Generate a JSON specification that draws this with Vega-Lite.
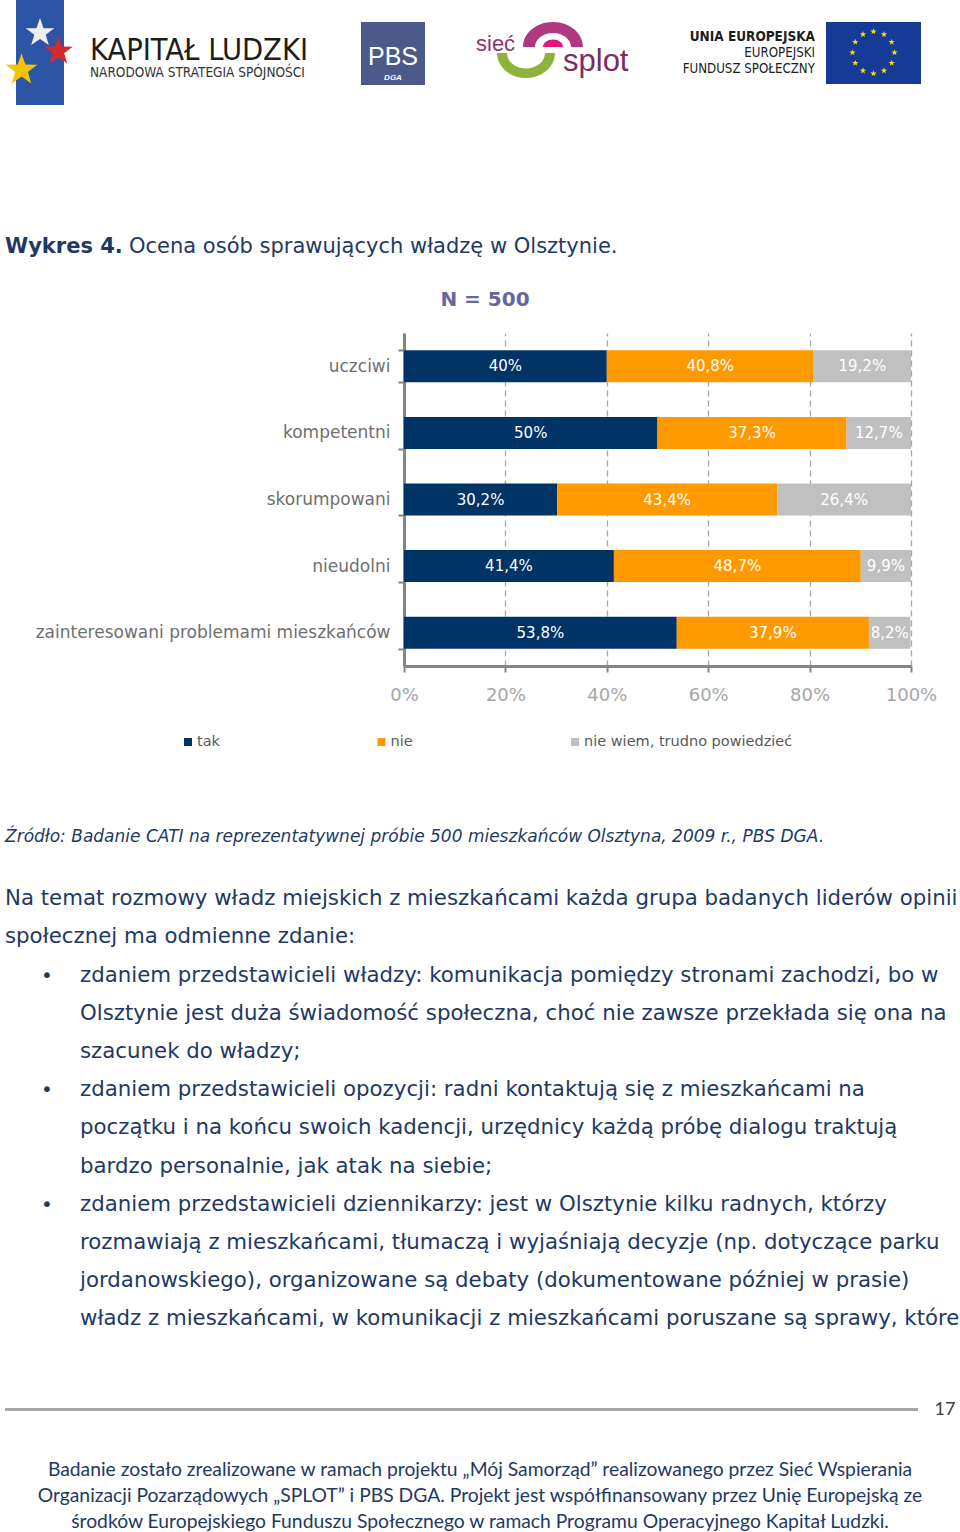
{
  "$schema": "https://vega.github.io/schema/vega-lite/v6.json",
  "padding": 0,
  "background": "white",
  "bounds": "full",
  "spacing": 0,
  "config": {
    "view": {"stroke": null},
    "concat": {"spacing": 0},
    "font": "DejaVu Sans",
    "locale": {"number": {"decimal": ",", "thousands": " ", "grouping": [3], "currency": ["", " zł"]}}
  },
  "vconcat": [
    {
      "bounds": "flush", "spacing": 0,
      "hconcat": [
        {"width": 16, "height": 105, "mark": "point", "data": {"values": []}},
        {
          "width": 48, "height": 105,
          "view": {"fill": "#2c55a5"},
          "data": {"values": [{"gwiazda": "biała"}, {"gwiazda": "czerwona"}, {"gwiazda": "żółta"}]},
          "encoding": {
            "x": {"field": "gwiazda", "type": "nominal", "scale": {"type": "point", "padding": 0.3, "domain": ["żółta", "biała", "czerwona"]}, "axis": null},
            "y": {"field": "gwiazda", "type": "nominal", "scale": {"type": "point", "padding": 0.84, "align": 0.467, "domain": ["góra", "biała", "czerwona", "żółta", "dół"]}, "axis": null}
          },
          "layer": [
            {"transform": [{"filter": "datum.gwiazda == 'biała'"}], "mark": {"type": "point", "shape": "M 0 -1 L 0.2351 -0.3236 L 0.9511 -0.309 L 0.3804 0.1236 L 0.5878 0.809 L 0 0.4 L -0.5878 0.809 L -0.3804 0.1236 L -0.9511 -0.309 L -0.2351 -0.3236 Z", "filled": true, "size": 900, "opacity": 1, "color": "#eeeeee"}},
            {"transform": [{"filter": "datum.gwiazda == 'czerwona'"}], "mark": {"type": "point", "shape": "M 0 -1 L 0.2351 -0.3236 L 0.9511 -0.309 L 0.3804 0.1236 L 0.5878 0.809 L 0 0.4 L -0.5878 0.809 L -0.3804 0.1236 L -0.9511 -0.309 L -0.2351 -0.3236 Z", "filled": true, "size": 900, "opacity": 1, "color": "#d42a2a"}},
            {"transform": [{"filter": "datum.gwiazda == 'żółta'"}], "mark": {"type": "point", "shape": "M 0 -1 L 0.2351 -0.3236 L 0.9511 -0.309 L 0.3804 0.1236 L 0.5878 0.809 L 0 0.4 L -0.5878 0.809 L -0.3804 0.1236 L -0.9511 -0.309 L -0.2351 -0.3236 Z", "filled": true, "size": 1100, "opacity": 1, "color": "#f5c400"}}
          ]
        },
        {"width": 25, "height": 105, "mark": "point", "data": {"values": []}},
        {
          "width": 2, "height": 105,
          "data": {"values": [{"wiersz": 1, "tekst": "KAPITAŁ LUDZKI"}, {"wiersz": 2, "tekst": "NARODOWA STRATEGIA SPÓJNOŚCI"}]},
          "encoding": {
            "y": {"field": "wiersz", "type": "ordinal", "scale": {"type": "point", "domain": [0, 1, 2, 3], "padding": 0.886, "align": 0.745}, "axis": null},
            "text": {"field": "tekst"}
          },
          "layer": [
            {"transform": [{"filter": "datum.wiersz == 1"}], "mark": {"type": "text", "align": "left", "font": "Liberation Sans Narrow, DejaVu Sans Condensed, Liberation Sans", "fontSize": 30.5, "color": "#1d1d1b"}},
            {"transform": [{"filter": "datum.wiersz == 2"}], "mark": {"type": "text", "align": "left", "font": "Liberation Sans Narrow, DejaVu Sans Condensed, Liberation Sans", "fontSize": 13.5, "color": "#333333"}}
          ]
        },
        {"width": 270, "height": 105, "mark": "point", "data": {"values": []}},
        {
          "width": 64, "height": 105,
          "data": {"values": [{"element": "góra", "tekst": ""}, {"element": "PBS", "tekst": "PBS"}, {"element": "DGA", "tekst": "DGA"}]},
          "encoding": {
            "y": {"field": "element", "type": "nominal", "scale": {"type": "band", "domain": ["góra", "PBS", "DGA"], "paddingInner": 0, "paddingOuter": 1, "align": 0.524}, "axis": null}
          },
          "layer": [
            {"mark": {"type": "bar", "color": "#4b5a8a"}},
            {"transform": [{"filter": "datum.element == 'PBS'"}], "mark": {"type": "text", "font": "Liberation Sans", "fontSize": 25, "color": "white", "dy": 3.5}, "encoding": {"text": {"field": "tekst"}}},
            {"transform": [{"filter": "datum.element == 'DGA'"}], "mark": {"type": "text", "font": "Liberation Sans", "fontSize": 8, "fontStyle": "italic", "fontWeight": "bold", "color": "white", "dy": 3.5}, "encoding": {"text": {"field": "tekst"}}}
          ]
        },
        {"width": 50, "height": 105, "mark": "point", "data": {"values": []}},
        {
          "width": 2, "height": 105,
          "data": {"values": [{"tekst": "sieć"}]},
          "mark": {"type": "text", "align": "left", "font": "Liberation Sans", "fontSize": 22, "color": "#8b3574"},
          "encoding": {
            "y": {"field": "tekst", "type": "nominal", "scale": {"type": "point", "padding": 1, "align": 0.419}, "axis": null},
            "text": {"field": "tekst"}
          }
        },
        {"width": 48, "height": 105, "mark": "point", "data": {"values": []}},
        {
          "width": 2, "height": 105,
          "data": {"values": [{"element": "łuk dolny"}]},
          "mark": {"type": "point", "filled": true, "opacity": 1, "color": "#8cb43c", "size": 2500, "shape": "M -1.16 0 A 1.16 1 0 0 0 1.16 0 L 0.76 0 A 0.76 0.62 0 0 1 -0.76 0 Z"},
          "encoding": {"y": {"field": "element", "type": "nominal", "scale": {"type": "point", "padding": 1, "align": 0.505}, "axis": null}}
        },
        {"width": 25, "height": 105, "mark": "point", "data": {"values": []}},
        {
          "width": 2, "height": 105,
          "data": {"values": [{"element": "łuk górny"}]},
          "encoding": {"y": {"field": "element", "type": "nominal", "scale": {"type": "point", "padding": 1, "align": 0.448}, "axis": null}},
          "layer": [
            {"mark": {"type": "point", "filled": true, "opacity": 1, "color": "#b0387e", "size": 2500, "shape": "M -1.2 0 A 1.2 1 0 0 1 1.2 0 L 0.72 0 A 0.72 0.56 0 0 0 -0.72 0 Z"}},
            {"mark": {"type": "point", "filled": true, "opacity": 1, "color": "#e4187c", "size": 2500, "shape": "M -0.4 0 A 0.4 0.3 0 0 1 0.4 0 Z"}}
          ]
        },
        {"width": 8, "height": 105, "mark": "point", "data": {"values": []}},
        {
          "width": 2, "height": 105,
          "data": {"values": [{"tekst": "splot"}]},
          "mark": {"type": "text", "align": "left", "font": "Liberation Sans", "fontSize": 31, "color": "#7b2d63"},
          "encoding": {
            "y": {"field": "tekst", "type": "nominal", "scale": {"type": "point", "padding": 1, "align": 0.59}, "axis": null},
            "text": {"field": "tekst"}
          }
        },
        {"width": 250, "height": 105, "mark": "point", "data": {"values": []}},
        {
          "width": 2, "height": 105,
          "data": {"values": [{"wiersz": 1, "tekst": "UNIA EUROPEJSKA"}, {"wiersz": 2, "tekst": "EUROPEJSKI"}, {"wiersz": 3, "tekst": "FUNDUSZ SPOŁECZNY"}]},
          "encoding": {
            "y": {"field": "wiersz", "type": "ordinal", "scale": {"type": "point", "padding": 0.781, "align": 0.84, "domain": [0, 1, 2, 3, 4, 5]}, "axis": null},
            "text": {"field": "tekst"}
          },
          "layer": [
            {"transform": [{"filter": "datum.wiersz == 1"}], "mark": {"type": "text", "align": "right", "font": "Liberation Sans Narrow, DejaVu Sans Condensed, Liberation Sans", "fontSize": 13.5, "fontWeight": "bold", "color": "#1d1d1b"}},
            {"transform": [{"filter": "datum.wiersz > 1"}], "mark": {"type": "text", "align": "right", "font": "Liberation Sans Narrow, DejaVu Sans Condensed, Liberation Sans", "fontSize": 13.2, "color": "#1d1d1b"}}
          ]
        },
        {"width": 10, "height": 105, "mark": "point", "data": {"values": []}},
        {
          "width": 95, "height": 105,
          "layer": [
            {
              "data": {"values": [{"logo": "flaga UE"}]},
              "mark": {"type": "bar", "color": "#163b96"},
              "encoding": {"y": {"field": "logo", "type": "nominal", "scale": {"type": "band", "paddingInner": 0, "paddingOuter": 0.347, "align": 0.512}, "axis": null}}
            },
            {
              "data": {"values": [{"logo": "gwiazdy"}]},
              "mark": {"type": "point", "filled": true, "opacity": 1, "color": "#ffdd00", "size": 2304, "shape": "M 0 -1.015 l 0.0329 0.0947 l 0.1002 0.002 l -0.0798 0.0606 l 0.029 0.096 l -0.0823 -0.0573 l -0.0823 0.0573 l 0.029 -0.096 l -0.0798 -0.0606 l 0.1002 -0.002 z M 0.4375 -0.8978 l 0.0329 0.0947 l 0.1002 0.002 l -0.0798 0.0606 l 0.029 0.096 l -0.0823 -0.0573 l -0.0823 0.0573 l 0.029 -0.096 l -0.0798 -0.0606 l 0.1002 -0.002 z M 0.7578 -0.5775 l 0.0329 0.0947 l 0.1002 0.002 l -0.0798 0.0606 l 0.029 0.096 l -0.0823 -0.0573 l -0.0823 0.0573 l 0.029 -0.096 l -0.0798 -0.0606 l 0.1002 -0.002 z M 0.875 -0.14 l 0.0329 0.0947 l 0.1002 0.002 l -0.0798 0.0606 l 0.029 0.096 l -0.0823 -0.0573 l -0.0823 0.0573 l 0.029 -0.096 l -0.0798 -0.0606 l 0.1002 -0.002 z M 0.7578 0.2975 l 0.0329 0.0947 l 0.1002 0.002 l -0.0798 0.0606 l 0.029 0.096 l -0.0823 -0.0573 l -0.0823 0.0573 l 0.029 -0.096 l -0.0798 -0.0606 l 0.1002 -0.002 z M 0.4375 0.6178 l 0.0329 0.0947 l 0.1002 0.002 l -0.0798 0.0606 l 0.029 0.096 l -0.0823 -0.0573 l -0.0823 0.0573 l 0.029 -0.096 l -0.0798 -0.0606 l 0.1002 -0.002 z M 0 0.735 l 0.0329 0.0947 l 0.1002 0.002 l -0.0798 0.0606 l 0.029 0.096 l -0.0823 -0.0573 l -0.0823 0.0573 l 0.029 -0.096 l -0.0798 -0.0606 l 0.1002 -0.002 z M -0.4375 0.6178 l 0.0329 0.0947 l 0.1002 0.002 l -0.0798 0.0606 l 0.029 0.096 l -0.0823 -0.0573 l -0.0823 0.0573 l 0.029 -0.096 l -0.0798 -0.0606 l 0.1002 -0.002 z M -0.7578 0.2975 l 0.0329 0.0947 l 0.1002 0.002 l -0.0798 0.0606 l 0.029 0.096 l -0.0823 -0.0573 l -0.0823 0.0573 l 0.029 -0.096 l -0.0798 -0.0606 l 0.1002 -0.002 z M -0.875 -0.14 l 0.0329 0.0947 l 0.1002 0.002 l -0.0798 0.0606 l 0.029 0.096 l -0.0823 -0.0573 l -0.0823 0.0573 l 0.029 -0.096 l -0.0798 -0.0606 l 0.1002 -0.002 z M -0.7578 -0.5775 l 0.0329 0.0947 l 0.1002 0.002 l -0.0798 0.0606 l 0.029 0.096 l -0.0823 -0.0573 l -0.0823 0.0573 l 0.029 -0.096 l -0.0798 -0.0606 l 0.1002 -0.002 z M -0.4375 -0.8978 l 0.0329 0.0947 l 0.1002 0.002 l -0.0798 0.0606 l 0.029 0.096 l -0.0823 -0.0573 l -0.0823 0.0573 l 0.029 -0.096 l -0.0798 -0.0606 l 0.1002 -0.002 z"}
            }
          ]
        }
      ]
    },
    {"width": 960, "height": 122, "mark": "point", "data": {"values": []}},
    {
      "bounds": "flush", "spacing": 0,
      "hconcat": [
        {"width": 10, "height": 40, "data": {"values": [{"tekst": "Wykres 4."}]}, "mark": {"type": "text", "align": "left", "fontSize": 21, "fontWeight": "bold", "color": "#1f3864"}, "encoding": {"text": {"field": "tekst"}}},
        {"width": 118, "height": 40, "mark": "point", "data": {"values": []}},
        {"width": 2, "height": 40, "data": {"values": [{"tekst": "Ocena osób sprawujących władzę w Olsztynie."}]}, "mark": {"type": "text", "align": "left", "fontSize": 21, "color": "#1f3864"}, "encoding": {"text": {"field": "tekst"}}}
      ]
    },
    {
      "bounds": "flush", "spacing": 0,
      "hconcat": [
        {"width": 400, "height": 56.5, "mark": "point", "data": {"values": []}},
        {
          "width": 170, "height": 56.5,
          "data": {"values": [{"tekst": "N = 500"}]},
          "mark": {"type": "text", "fontSize": 20, "fontWeight": "bold", "color": "#67679a"},
          "encoding": {
            "y": {"field": "tekst", "type": "nominal", "scale": {"type": "point", "padding": 1, "align": 0.584}, "axis": null},
            "text": {"field": "tekst"}
          }
        }
      ]
    },
    {
      "bounds": "flush", "spacing": 0,
      "hconcat": [
        {"width": 404, "height": 333, "mark": "point", "data": {"values": []}},
        {
          "width": 507, "height": 333,
          "data": {"values": [
            {"cecha": "uczciwi", "odpowiedz": "tak", "kod": 1, "wartosc": 0.4},
            {"cecha": "uczciwi", "odpowiedz": "nie", "kod": 2, "wartosc": 0.408},
            {"cecha": "uczciwi", "odpowiedz": "nie wiem, trudno powiedzieć", "kod": 3, "wartosc": 0.192},
            {"cecha": "kompetentni", "odpowiedz": "tak", "kod": 1, "wartosc": 0.5},
            {"cecha": "kompetentni", "odpowiedz": "nie", "kod": 2, "wartosc": 0.373},
            {"cecha": "kompetentni", "odpowiedz": "nie wiem, trudno powiedzieć", "kod": 3, "wartosc": 0.127},
            {"cecha": "skorumpowani", "odpowiedz": "tak", "kod": 1, "wartosc": 0.302},
            {"cecha": "skorumpowani", "odpowiedz": "nie", "kod": 2, "wartosc": 0.434},
            {"cecha": "skorumpowani", "odpowiedz": "nie wiem, trudno powiedzieć", "kod": 3, "wartosc": 0.264},
            {"cecha": "nieudolni", "odpowiedz": "tak", "kod": 1, "wartosc": 0.414},
            {"cecha": "nieudolni", "odpowiedz": "nie", "kod": 2, "wartosc": 0.487},
            {"cecha": "nieudolni", "odpowiedz": "nie wiem, trudno powiedzieć", "kod": 3, "wartosc": 0.099},
            {"cecha": "zainteresowani problemami mieszkańców", "odpowiedz": "tak", "kod": 1, "wartosc": 0.538},
            {"cecha": "zainteresowani problemami mieszkańców", "odpowiedz": "nie", "kod": 2, "wartosc": 0.379},
            {"cecha": "zainteresowani problemami mieszkańców", "odpowiedz": "nie wiem, trudno powiedzieć", "kod": 3, "wartosc": 0.082}
          ]},
          "transform": [
            {"stack": "wartosc", "groupby": ["cecha"], "sort": [{"field": "kod", "order": "ascending"}], "as": ["od", "do"]},
            {"calculate": "(datum.od + datum.do) / 2", "as": "srodek"}
          ],
          "encoding": {
            "y": {
              "field": "cecha", "type": "nominal",
              "sort": ["uczciwi", "kompetentni", "skorumpowani", "nieudolni", "zainteresowani problemami mieszkańców"],
              "scale": {"paddingInner": 0.52, "paddingOuter": 0.26},
              "axis": {"title": null, "labelFontSize": 17, "labelColor": "#6f6f6f", "domainColor": "#858585", "domainWidth": 3, "tickColor": "#858585", "tickWidth": 2, "tickSize": 6, "tickBand": "extent", "labelPadding": 8, "labelLimit": 600, "grid": false}
            }
          },
          "layer": [
            {
              "mark": {"type": "bar"},
              "encoding": {
                "x": {
                  "field": "od", "type": "quantitative",
                  "scale": {"domain": [0, 1], "nice": false},
                  "axis": {"values": [0, 0.2, 0.4, 0.6, 0.8, 1], "format": ".0%", "title": null, "grid": true, "gridColor": "#a6a6a6", "gridDash": [6, 4], "gridWidth": 1.3, "domainColor": "#858585", "domainWidth": 3, "tickColor": "#858585", "tickWidth": 2, "tickSize": 6, "labelFontSize": 18, "labelColor": "#a6a6a6", "labelPadding": 14, "labelFlush": false, "labelOverlap": false}
                },
                "x2": {"field": "do"},
                "color": {"field": "odpowiedz", "type": "nominal", "scale": {"domain": ["tak", "nie", "nie wiem, trudno powiedzieć"], "range": ["#003366", "#ff9900", "#c0c0c0"]}, "legend": null}
              }
            },
            {
              "mark": {"type": "text", "color": "white", "fontSize": 15},
              "encoding": {
                "x": {"field": "srodek", "type": "quantitative"},
                "text": {"field": "wartosc", "type": "quantitative", "format": ".1~%"}
              }
            }
          ]
        }
      ]
    },
    {
      "bounds": "flush", "spacing": 0,
      "hconcat": [
        {"width": 188, "height": 76, "mark": "point", "data": {"values": []}},
        {
          "width": 387, "height": 76,
          "data": {"values": [{"odpowiedz": "tak", "kod": 1}, {"odpowiedz": "nie", "kod": 2}, {"odpowiedz": "nie wiem, trudno powiedzieć", "kod": 3}]},
          "encoding": {
            "x": {"field": "odpowiedz", "type": "nominal", "sort": ["tak", "nie", "nie wiem, trudno powiedzieć"], "scale": {"type": "point", "padding": 0}, "axis": null}
          },
          "layer": [
            {"mark": {"type": "point", "shape": "square", "filled": true, "size": 64, "opacity": 1}, "encoding": {"color": {"field": "odpowiedz", "type": "nominal", "scale": {"domain": ["tak", "nie", "nie wiem, trudno powiedzieć"], "range": ["#003366", "#ff9900", "#c0c0c0"]}, "legend": null}}},
            {"mark": {"type": "text", "align": "left", "dx": 9, "fontSize": 14.5, "color": "#595959"}, "encoding": {"text": {"field": "odpowiedz"}}}
          ]
        }
      ]
    },
    {"width": 960, "height": 38, "mark": "point", "data": {"values": []}},
    {"width": 10, "height": 38, "data": {"values": [{"tekst": "Źródło: Badanie CATI na reprezentatywnej próbie 500 mieszkańców Olsztyna, 2009 r., PBS DGA."}]}, "mark": {"type": "text", "align": "left", "fontSize": 17, "fontStyle": "italic", "color": "#1f3864"}, "encoding": {"text": {"field": "tekst"}}},
    {"width": 960, "height": 24, "mark": "point", "data": {"values": []}},
    {
      "bounds": "flush", "spacing": 0,
      "hconcat": [
        {
          "width": 10, "height": 458.4,
          "data": {"values": [
            {"wiersz": 1, "tekst": "Na temat rozmowy władz miejskich z mieszkańcami każda grupa badanych liderów opinii"},
            {"wiersz": 2, "tekst": "społecznej ma odmienne zdanie:"}
          ]},
          "mark": {"type": "text", "align": "left", "fontSize": 21.3, "color": "#1f3864"},
          "encoding": {
            "y": {"field": "wiersz", "type": "ordinal", "scale": {"type": "point", "padding": 0.5, "domain": [1, 2, 3, 4, 5, 6, 7, 8, 9, 10, 11, 12]}, "axis": null},
            "text": {"field": "tekst"}
          }
        },
        {"width": 32, "height": 458.4, "mark": "point", "data": {"values": []}},
        {
          "width": 10, "height": 458.4,
          "data": {"values": [{"wiersz": 3, "tekst": "•"}, {"wiersz": 6, "tekst": "•"}, {"wiersz": 9, "tekst": "•"}]},
          "mark": {"type": "text", "fontSize": 20, "color": "#1f3864"},
          "encoding": {
            "y": {"field": "wiersz", "type": "ordinal", "scale": {"type": "point", "padding": 0.5, "domain": [1, 2, 3, 4, 5, 6, 7, 8, 9, 10, 11, 12]}, "axis": null},
            "text": {"field": "tekst"}
          }
        },
        {"width": 27, "height": 458.4, "mark": "point", "data": {"values": []}},
        {
          "width": 2, "height": 458.4,
          "data": {"values": [
            {"wiersz": 3, "tekst": "zdaniem przedstawicieli władzy: komunikacja pomiędzy stronami zachodzi, bo w"},
            {"wiersz": 4, "tekst": "Olsztynie jest duża świadomość społeczna, choć nie zawsze przekłada się ona na"},
            {"wiersz": 5, "tekst": "szacunek do władzy;"},
            {"wiersz": 6, "tekst": "zdaniem przedstawicieli opozycji: radni kontaktują się z mieszkańcami na"},
            {"wiersz": 7, "tekst": "początku i na końcu swoich kadencji, urzędnicy każdą próbę dialogu traktują"},
            {"wiersz": 8, "tekst": "bardzo personalnie, jak atak na siebie;"},
            {"wiersz": 9, "tekst": "zdaniem przedstawicieli dziennikarzy: jest w Olsztynie kilku radnych, którzy"},
            {"wiersz": 10, "tekst": "rozmawiają z mieszkańcami, tłumaczą i wyjaśniają decyzje (np. dotyczące parku"},
            {"wiersz": 11, "tekst": "jordanowskiego), organizowane są debaty (dokumentowane później w prasie)"},
            {"wiersz": 12, "tekst": "władz z mieszkańcami, w komunikacji z mieszkańcami poruszane są sprawy, które"}
          ]},
          "mark": {"type": "text", "align": "left", "fontSize": 21.3, "color": "#1f3864"},
          "encoding": {
            "y": {"field": "wiersz", "type": "ordinal", "scale": {"type": "point", "padding": 0.5, "domain": [1, 2, 3, 4, 5, 6, 7, 8, 9, 10, 11, 12]}, "axis": null},
            "text": {"field": "tekst"}
          }
        }
      ]
    },
    {"width": 960, "height": 59.6, "mark": "point", "data": {"values": []}},
    {
      "bounds": "flush", "spacing": 0,
      "hconcat": [
        {"width": 5, "height": 21, "mark": "point", "data": {"values": []}},
        {
          "width": 913, "height": 21,
          "data": {"values": [{"element": "linia"}]},
          "mark": {"type": "bar", "color": "#a6a6a6"},
          "encoding": {"y": {"field": "element", "type": "nominal", "scale": {"type": "band", "domain": ["a", "b", "linia", "c", "d"], "paddingInner": 0, "paddingOuter": 1}, "axis": null}}
        },
        {"width": 26, "height": 21, "mark": "point", "data": {"values": []}},
        {"width": 2, "height": 21, "data": {"values": [{"strona": "17"}]}, "mark": {"type": "text", "font": "Lato", "fontSize": 18, "color": "#404040"}, "encoding": {"text": {"field": "strona"}}}
      ]
    },
    {"width": 960, "height": 37, "mark": "point", "data": {"values": []}},
    {
      "width": 960, "height": 78,
      "data": {"values": [
        {"wiersz": 1, "tekst": "Badanie zostało zrealizowane w ramach projektu „Mój Samorząd” realizowanego przez Sieć Wspierania"},
        {"wiersz": 2, "tekst": "Organizacji Pozarządowych „SPLOT” i PBS DGA. Projekt jest współfinansowany przez Unię Europejską ze"},
        {"wiersz": 3, "tekst": "środków Europejskiego Funduszu Społecznego w ramach Programu Operacyjnego Kapitał Ludzki."}
      ]},
      "mark": {"type": "text", "font": "Lato", "fontSize": 19.3, "color": "#1f3864"},
      "encoding": {
        "y": {"field": "wiersz", "type": "ordinal", "scale": {"type": "point", "padding": 0.5}, "axis": null},
        "text": {"field": "tekst"}
      }
    }
  ]
}
